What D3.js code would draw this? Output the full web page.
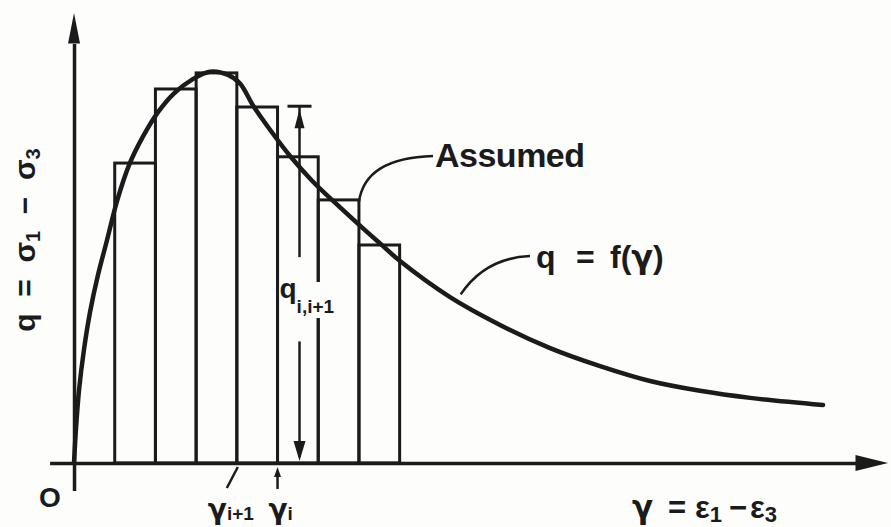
<!DOCTYPE html>
<html>
<head>
<meta charset="utf-8">
<script src="https://cdn.jsdelivr.net/npm/d3@7/dist/d3.min.js"></script>
<style>
  html, body { margin: 0; padding: 0; background: #fdfdfc; }
  svg { display: block; }
  text { font-family: "Liberation Sans", Arial, sans-serif; font-weight: bold; fill: #1b1b1b; }
  .greek { font-family: "DejaVu Sans", sans-serif; }
  .pre { white-space: pre; }
</style>
</head>
<body>
<svg id="chart" width="891" height="527"></svg>
<script>
// Stress–strain curve q = f(γ) and its stepwise (assumed) approximation
const curveGamma = [0, 0.025, 0.061, 0.123, 0.197, 0.295, 0.405, 0.528, 0.676, 0.848,
                    1.032, 1.229, 1.450, 1.670, 1.892, 2.039, 2.199, 2.408, 2.654, 2.924,
                    3.206, 3.489, 3.759, 4.005, 4.619, 5.233, 5.848, 6.462, 7.076, 7.690,
                    8.305, 9.201];
const curveQ = [0, 0.090, 0.185, 0.290, 0.385, 0.480, 0.568, 0.668, 0.760, 0.833,
                0.895, 0.943, 0.978, 0.998, 0.990, 0.968, 0.912, 0.850, 0.783, 0.720,
                0.664, 0.610, 0.560, 0.515, 0.423, 0.352, 0.293, 0.247, 0.209, 0.184,
                0.166, 0.148];

// Strain increments and the assumed constant q in each increment
const binEdges = [0.5, 1.0, 1.5, 2.0, 2.5, 3.0, 3.5, 4.0];
const binQ = [0.765, 0.954, 0.995, 0.908, 0.781, 0.671, 0.556];

// Marked strains on the γ axis
const tickGamma = [2.0, 2.5];
const tickBase = ["γ", "γ"];
const tickSub = ["i+1", "i"];

// Dimension line for q(i,i+1)
const dimGamma = 2.77;
const dimQ = 0.91;

const ink = "#1b1b1b";
const paper = "#fdfdfc";
const svg = d3.select("#chart");
svg.append("rect").attr("width", 891).attr("height", 527).attr("fill", paper);

const x = d3.scaleLinear().domain([-0.3, 9.6]).range([49.6, 855.5]);
const y = d3.scaleLinear().domain([-0.07, 1.07]).range([490.4, 43.5]);

// Step bars
const bars = binQ.map((q, i) => ({ g0: binEdges[i], g1: binEdges[i + 1], q }));
svg.append("g").selectAll("rect").data(bars).join("rect")
  .attr("x", d => x(d.g0))
  .attr("y", d => y(d.q))
  .attr("width", d => x(d.g1) - x(d.g0))
  .attr("height", d => y(0) - y(d.q))
  .attr("fill", "none")
  .attr("stroke", ink)
  .attr("stroke-width", 3);

// Curve
const pts = curveGamma.map((g, i) => [g, curveQ[i]]);
svg.append("path")
  .datum(pts)
  .attr("fill", "none")
  .attr("stroke", ink)
  .attr("stroke-width", 4.5)
  .attr("stroke-linecap", "round")
  .attr("d", d3.line().x(d => x(d[0])).y(d => y(d[1])).curve(d3.curveCatmullRom.alpha(0.5)));

// Axes
const gx = svg.append("g").attr("transform", `translate(0,${y(0)})`)
  .call(d3.axisBottom(x).tickValues([]).tickSizeOuter(0));
const gy = svg.append("g").attr("transform", `translate(${x(0)},0)`)
  .call(d3.axisLeft(y).tickValues([]).tickSizeOuter(0));
[gx, gy].forEach(g => g.select(".domain").attr("stroke", ink).attr("stroke-width", 3.5));

// Arrowheads on the axes
svg.append("path").attr("fill", ink)
  .attr("d", `M${x(0)},${y(1.148)} L${x(0) - 6},${y(1.07)} L${x(0) + 6},${y(1.07)} Z`);
svg.append("path").attr("fill", ink)
  .attr("d", `M${x(10.0)},${y(0)} L${x(9.6)},${y(0) - 8} L${x(9.6)},${y(0) + 8} Z`);

// Origin
svg.append("text").attr("x", 39).attr("y", 507).attr("font-size", 28).attr("font-weight", "normal").text("O");

// Axis titles
const ylab = svg.append("text")
  .attr("class", "pre")
  .attr("transform", `translate(35,240) rotate(-90)`)
  .attr("text-anchor", "middle")
  .attr("font-size", 30);
ylab.append("tspan").text("q  =  σ");
ylab.append("tspan").attr("font-size", 20).attr("dy", 5).text("1");
ylab.append("tspan").attr("dy", -5).text("  −  σ");
ylab.append("tspan").attr("font-size", 20).attr("dy", 5).text("3");

const xlab = svg.append("text").attr("y", 518).attr("font-size", 31);
xlab.append("tspan").attr("x", 632).attr("class", "greek").text("γ");
xlab.append("tspan").attr("x", 668).text("=");
xlab.append("tspan").attr("x", 695).text("ε");
xlab.append("tspan").attr("font-size", 22).attr("dy", 4).text("1");
xlab.append("tspan").attr("x", 729).attr("dy", -4).text("−");
xlab.append("tspan").attr("x", 750).text("ε");
xlab.append("tspan").attr("font-size", 22).attr("dy", 4).text("3");

// Marked strains
tickGamma.forEach((g, i) => {
  const px = x(g), py = y(0);
  if (i === 0) {
    svg.append("line").attr("x1", px + 1).attr("y1", py + 4).attr("x2", px - 10).attr("y2", py + 25)
      .attr("stroke", ink).attr("stroke-width", 2.5);
  } else {
    svg.append("line").attr("x1", px).attr("y1", py + 10).attr("x2", px).attr("y2", py + 26)
      .attr("stroke", ink).attr("stroke-width", 2.5);
    svg.append("path").attr("fill", ink)
      .attr("d", `M${px},${py + 4} L${px - 3.5},${py + 14} L${px + 3.5},${py + 14} Z`);
  }
  const t = svg.append("text")
    .attr("x", i === 0 ? px - 29 : px - 9)
    .attr("y", 519)
    .attr("font-size", 28);
  t.append("tspan").attr("class", "greek").text(tickBase[i]);
  t.append("tspan").attr("font-size", 19).attr("dy", 1).text(tickSub[i]);
});

// Dimension line q(i,i+1)
const dx = x(dimGamma);
svg.append("line").attr("x1", dx - 12).attr("x2", dx + 12).attr("y1", y(dimQ)).attr("y2", y(dimQ))
  .attr("stroke", ink).attr("stroke-width", 3);
svg.append("line").attr("x1", dx).attr("x2", dx).attr("y1", y(dimQ)).attr("y2", y(0.525))
  .attr("stroke", ink).attr("stroke-width", 2.5);
svg.append("path").attr("fill", ink)
  .attr("d", `M${dx},${y(dimQ) + 3} L${dx - 5},${y(dimQ) + 22} L${dx + 5},${y(dimQ) + 22} Z`);
svg.append("line").attr("x1", dx).attr("x2", dx).attr("y1", y(0.31)).attr("y2", y(0) - 6)
  .attr("stroke", ink).attr("stroke-width", 2.5);
svg.append("path").attr("fill", ink)
  .attr("d", `M${dx},${y(0) - 2} L${dx - 6},${y(0) - 22} L${dx + 6},${y(0) - 22} Z`);

svg.append("rect").attr("x", dx + 1).attr("y", 282).attr("width", 32).attr("height", 36).attr("fill", paper);
const ql = svg.append("text").attr("x", dx - 20).attr("y", 298).attr("font-size", 28);
ql.append("tspan").text("q");
ql.append("tspan").attr("font-size", 19).attr("dy", 15).text("i,i+1");

// Callouts
svg.append("path").attr("fill", "none").attr("stroke", ink).attr("stroke-width", 2.5)
  .attr("d", `M433,156 Q365,158 ${x(binEdges[6])},${y(binQ[5]) + 2}`);
svg.append("text").attr("x", 435).attr("y", 167).attr("font-size", 34).attr("letter-spacing", -0.5).text("Assumed");

svg.append("path").attr("fill", "none").attr("stroke", ink).attr("stroke-width", 2.5)
  .attr("d", `M530,256 Q485,258 ${x(4.75)},${y(0.43)}`);
const fl = svg.append("text").attr("y", 268).attr("font-size", 32);
fl.append("tspan").attr("x", 536).text("q");
fl.append("tspan").attr("x", 576).text("=");
fl.append("tspan").attr("x", 610).text("f(");
fl.append("tspan").attr("class", "greek").text("γ");
fl.append("tspan").text(")");
</script>
</body>
</html>
